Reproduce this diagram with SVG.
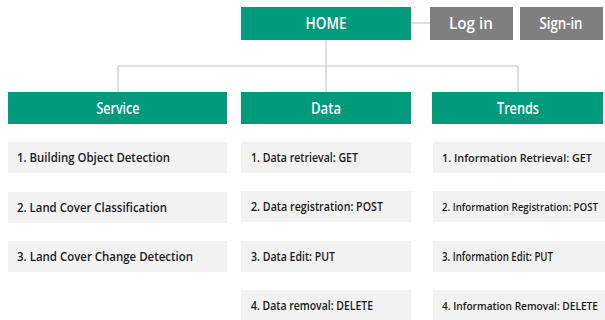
<svg xmlns="http://www.w3.org/2000/svg" width="605" height="320" viewBox="0 0 605 320">
<style>
.hd{fill:#009B7D}
.gr{fill:#7F7F7F}
.it{fill:#F2F2F2}
.ht{font-family:"Open Sans","Noto Sans",sans-serif;font-size:15.5px;font-weight:600;fill:#fff;text-anchor:middle}
.tx{font-family:"Open Sans","Noto Sans",sans-serif;font-size:12.5px;font-weight:600;fill:#1a1a1a}
.sm{font-size:11px}
.xs{font-size:9.8px}
.ln{stroke:#C8C8C8;stroke-width:1.2;fill:none}
</style>
<rect width="605" height="320" fill="#fff"/>
<g id="connectors">
<line class="ln" x1="411" y1="23" x2="430" y2="23"/>
<line class="ln" x1="326" y1="40" x2="326" y2="92"/>
<polyline class="ln" points="118,92 118,66 518,66 518,92"/>
</g>
<g id="home"><rect class="hd" x="241" y="7" width="170" height="33"/><text class="ht" x="326" y="29" textLength="41" lengthAdjust="spacingAndGlyphs">HOME</text></g>
<g id="login"><rect class="gr" x="430" y="7" width="83" height="33"/><text class="ht" x="471" y="29" textLength="44" lengthAdjust="spacingAndGlyphs">Log in</text></g>
<g id="signin"><rect class="gr" x="520" y="7" width="83" height="33"/><text class="ht" x="561" y="29" textLength="43" lengthAdjust="spacingAndGlyphs">Sign-in</text></g>

<g id="service"><rect class="hd" x="8" y="92" width="219" height="32"/><text class="ht" x="118" y="114" textLength="43" lengthAdjust="spacingAndGlyphs">Service</text></g>
<g id="data"><rect class="hd" x="241" y="92" width="170" height="32"/><text class="ht" x="326" y="114" textLength="30" lengthAdjust="spacingAndGlyphs">Data</text></g>
<g id="trends"><rect class="hd" x="432" y="92" width="171" height="32"/><text class="ht" x="518" y="114" textLength="42" lengthAdjust="spacingAndGlyphs">Trends</text></g>

<g id="s1"><rect class="it" x="8" y="142" width="219" height="31"/><text class="tx" x="17" y="162" textLength="153" lengthAdjust="spacingAndGlyphs">1. Building Object Detection</text></g>
<g id="s2"><rect class="it" x="8" y="192" width="219" height="31"/><text class="tx" x="17" y="212" textLength="150" lengthAdjust="spacingAndGlyphs">2. Land Cover Classification</text></g>
<g id="s3"><rect class="it" x="8" y="241" width="219" height="31"/><text class="tx" x="17" y="261" textLength="176" lengthAdjust="spacingAndGlyphs">3. Land Cover Change Detection</text></g>

<g id="d1"><rect class="it" x="241" y="142" width="170" height="31"/><text class="tx" x="251" y="162" textLength="107" lengthAdjust="spacingAndGlyphs">1. Data retrieval: GET</text></g>
<g id="d2"><rect class="it" x="241" y="191" width="170" height="31"/><text class="tx" x="251" y="211" textLength="132" lengthAdjust="spacingAndGlyphs">2. Data registration: POST</text></g>
<g id="d3"><rect class="it" x="241" y="241" width="170" height="31"/><text class="tx" x="251" y="261" textLength="84" lengthAdjust="spacingAndGlyphs">3. Data Edit: PUT</text></g>
<g id="d4"><rect class="it" x="241" y="290" width="170" height="31"/><text class="tx" x="251" y="310" textLength="122" lengthAdjust="spacingAndGlyphs">4. Data removal: DELETE</text></g>

<g id="t1"><rect class="it" x="433" y="142" width="172" height="31"/><text class="tx sm" x="442" y="162" textLength="150" lengthAdjust="spacingAndGlyphs">1. Information Retrieval: GET</text></g>
<g id="t2"><rect class="it" x="433" y="191" width="172" height="31"/><text class="tx xs" x="442" y="211" textLength="156" lengthAdjust="spacingAndGlyphs">2. Information Registration: POST</text></g>
<g id="t3"><rect class="it" x="433" y="241" width="172" height="31"/><text class="tx" x="442" y="261" textLength="111" lengthAdjust="spacingAndGlyphs">3. Information Edit: PUT</text></g>
<g id="t4"><rect class="it" x="433" y="290" width="172" height="31"/><text class="tx xs" x="442" y="310" textLength="156" lengthAdjust="spacingAndGlyphs">4. Information Removal: DELETE</text></g>
</svg>
